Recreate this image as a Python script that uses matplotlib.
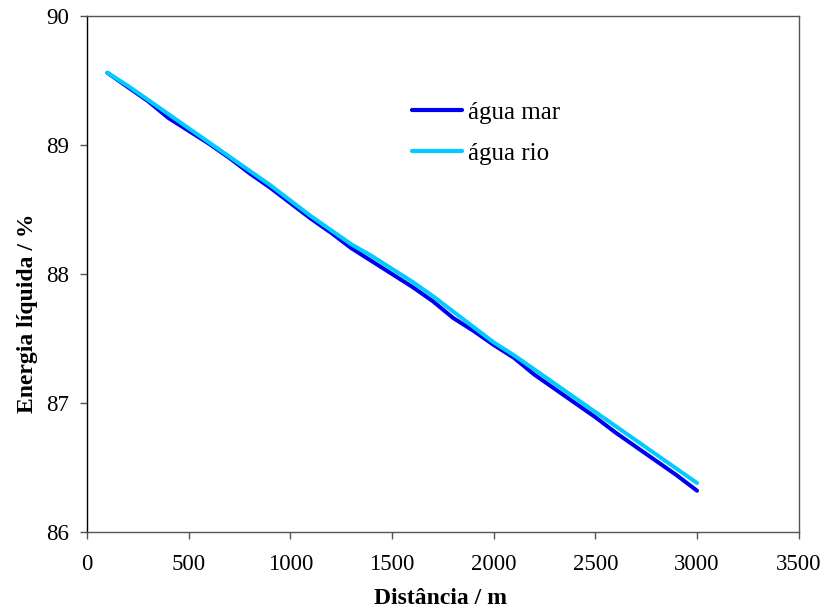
import matplotlib
matplotlib.use("Agg")
import matplotlib.pyplot as plt

distance = [100, 200, 300, 400, 500, 600, 700, 800, 900, 1000,
            1100, 1200, 1300, 1400, 1500, 1600, 1700, 1800, 1900, 2000,
            2100, 2200, 2300, 2400, 2500, 2600, 2700, 2800, 2900, 3000]
agua_mar = [89.56, 89.45, 89.34, 89.21, 89.11, 89.01, 88.90, 88.78, 88.67, 88.55,
            88.43, 88.32, 88.20, 88.10, 88.00, 87.90, 87.79, 87.66, 87.56, 87.45,
            87.35, 87.22, 87.11, 87.00, 86.89, 86.77, 86.66, 86.55, 86.44, 86.32]
agua_rio = [89.56, 89.46, 89.35, 89.24, 89.13, 89.02, 88.91, 88.80, 88.69, 88.57,
            88.45, 88.34, 88.23, 88.14, 88.04, 87.94, 87.83, 87.71, 87.59, 87.47,
            87.37, 87.26, 87.15, 87.04, 86.93, 86.82, 86.71, 86.60, 86.49, 86.38]
x_ticks = [0, 500, 1000, 1500, 2000, 2500, 3000, 3500]
y_ticks = [86, 87, 88, 89, 90]

plt.rcParams['font.family'] = ['Liberation Serif', 'DejaVu Serif']

fig = plt.figure(figsize=(8.26, 6.16), dpi=100)
ax = fig.add_axes([87/826, 1-532/616, (798.7-87)/826, (532-16)/616])

ax.plot(distance, agua_mar, color='#0000F0', lw=2.9, label='água mar', solid_capstyle='round')
ax.plot(distance, agua_rio, color='#00CCFF', lw=2.9, label='água rio', solid_capstyle='round')

ax.set_xlim(0, 3500)
ax.set_ylim(86, 90)
ax.set_xticks(x_ticks)
ax.set_yticks(y_ticks)
ax.tick_params(direction='out', length=5, width=1, color='#555555', labelsize=16.5)
ax.tick_params(axis='x', pad=11)
ax.tick_params(axis='y', pad=8)

ax.spines['left'].set_color('black')
for s in ['top', 'right', 'bottom']:
    ax.spines[s].set_color('#555555')
for s in ax.spines.values():
    s.set_linewidth(1)

ax.set_xlabel('Distância / m', fontsize=17, fontweight='bold', va='center')
ax.xaxis.set_label_coords((441-87)/711.7, -(599-532)/516)
ax.set_ylabel('Energia líquida / %', fontsize=17, fontweight='bold',
              va='center', ha='center', rotation_mode='anchor')
ax.yaxis.set_label_coords((28-87)/711.7, 1-(313-16)/516)

leg = ax.legend(loc='center left', bbox_to_anchor=(0.456, 0.773), frameon=False,
                fontsize=18, handlelength=2.0, handletextpad=0.25, labelspacing=0.75,
                borderpad=0, borderaxespad=0)
for line in leg.get_lines():
    line.set_linewidth(3.0)

fig.savefig('out.png', dpi=100)
